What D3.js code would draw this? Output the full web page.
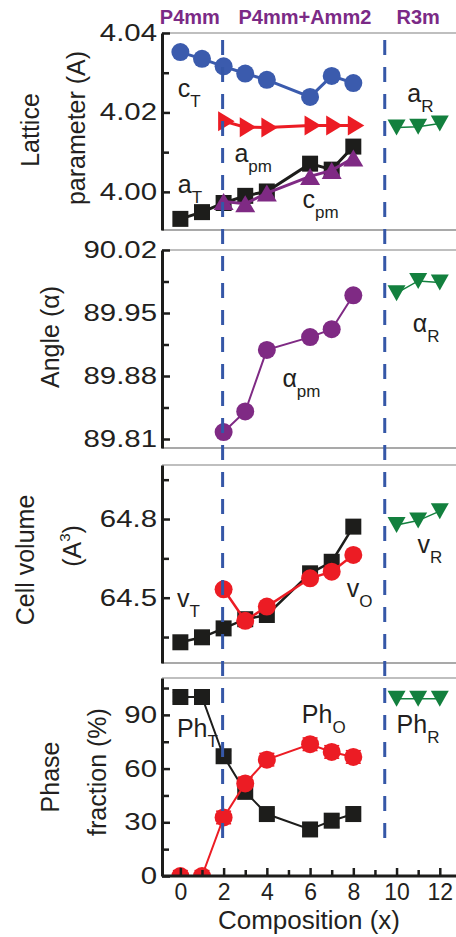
<!DOCTYPE html>
<html>
<head>
<meta charset="utf-8">
<script src="https://cdn.jsdelivr.net/npm/d3@7"></script>
<style>
  body { margin: 0; background: #fff; }
  text { font-family: "Liberation Sans", Arial, sans-serif; }
</style>
</head>
<body>
<div id="chart"></div>
<script>
// compositions
const comp = [0, 1, 2, 3, 4, 6, 7, 8];
const compPM = [2, 3, 4, 6, 7, 8];
const compR = [10, 11, 12];

// lattice parameters (A)
const latCT = [4.0352, 4.0335, 4.0316, 4.0298, 4.0282, 4.0239, 4.0292, 4.0274];
const latAT = [3.9932, 3.9949, 3.9972, 3.9990, 4.0001, 4.0071, 4.0056, 4.0114];
const latApm = [4.0178, 4.0163, 4.0162, 4.0167, 4.0167, 4.0167];
const latCpm = [3.9976, 3.9970, 3.9997, 4.0039, 4.0054, 4.0085];
const latAR = [4.0162, 4.0164, 4.0172];

// angle
const angPM = [89.8177, 89.8406, 89.909, 89.9232, 89.932, 89.9697];
const angR = [89.972, 89.9856, 89.984];

// cell volume
const volT = [64.330, 64.349, 64.383, 64.418, 64.434, 64.593, 64.637, 64.771];
const volO = [64.532, 64.412, 64.466, 64.574, 64.599, 64.663];
const volR = [64.777, 64.794, 64.830];

// phase fraction (%)
const phT = [100, 100, 66.9, 47, 34.6, 26, 30.9, 34.6];
const phTErr = [2.5, 2.5, 3, 3, 3, 3.5, 3.5, 4];
const phO = [0, 0, 32.7, 51.7, 65, 73.6, 69.3, 66.5];
const phOErr = [3, 3, 3.5, 3.5, 3.5, 3.5, 3.5, 3.5];
const phR = [99, 99, 99];

// ticks
const xTicks = d3.range(0, 13);
const tickMajor = [[4.00, 4.02, 4.04], [89.81, 89.88, 89.95, 90.02], [64.5, 64.8], [0, 30, 60, 90]];
const tickMinor = [[4.01, 4.03], [89.845, 89.915, 89.985], [64.35, 64.65, 64.95], [15, 45, 75, 105]];
const tickFmt = [".2f", ".2f", ".1f", "d"];
const phaseBounds = [2, 9.5];

const blue = "#3b5bad", red = "#ec1c24", black = "#1d1d1b",
      purple = "#7f2a84", green = "#13803e", dashBlue = "#3557a7", ink = "#231f20";

const width = 456, height = 937;
const left = 162, right = 456;

const svg = d3.select("#chart").append("svg")
  .attr("width", width).attr("height", height);

const x = d3.scaleLinear().domain([-0.85, 12.75]).range([left, right]);

const panels = [
  { top: 33, bottom: 230, domain: [3.9904, 4.04] },
  { top: 250, bottom: 448, domain: [89.80, 90.02] },
  { top: 465, bottom: 663, domain: [64.251, 65.006] },
  { top: 678, bottom: 876, domain: [0, 110.6] }
];
panels.forEach(p => {
  p.y = d3.scaleLinear().domain(p.domain).range([p.bottom, p.top]);
});

// marker shapes
const shapes = {
  circle: "M9,0A9,9 0 1,1 -9,0A9,9 0 1,1 9,0Z",
  square: "M-8,-8H8V8H-8Z",
  up: "M0,-8.5L10,8.5L-10,8.5Z",
  down: "M-9,-8L9,-8L0,8Z",
  right: "M-5.5,-10L11,0L-5.5,10Z"
};

function series(g, p, xs, ys, shape, color, lw) {
  const line = d3.line().x((d, i) => x(xs[i])).y(d => p.y(d));
  g.append("path").datum(ys)
    .attr("d", line)
    .attr("fill", "none")
    .attr("stroke", color)
    .attr("stroke-width", lw);
  g.selectAll(null).data(ys).enter().append("path")
    .attr("d", shapes[shape])
    .attr("transform", (d, i) => `translate(${x(xs[i])},${p.y(d)})`)
    .attr("fill", color);
}

function errBars(g, p, xs, ys, errs, color) {
  const eb = g.append("g").attr("stroke", color).attr("stroke-width", 1.5);
  ys.forEach((d, i) => {
    const cx = x(xs[i]);
    eb.append("line").attr("x1", cx).attr("x2", cx)
      .attr("y1", p.y(d - errs[i])).attr("y2", p.y(d + errs[i]));
    [d - errs[i], d + errs[i]].forEach(v => {
      eb.append("line").attr("x1", cx - 7.5).attr("x2", cx + 7.5)
        .attr("y1", p.y(v)).attr("y2", p.y(v));
    });
  });
}

function subLabel(p, xv, yv, main, sub) {
  const t = svg.append("text")
    .attr("x", x(xv)).attr("y", p.y(yv))
    .attr("font-size", 25).attr("fill", ink);
  t.append("tspan").text(main);
  t.append("tspan").attr("font-size", 17).attr("dy", 10).text(sub);
}

// frames, axes, clip areas
const plots = panels.map((p, k) => {
  svg.append("clipPath").attr("id", "clip" + k)
    .append("rect").attr("x", left).attr("y", p.top)
    .attr("width", right - left).attr("height", p.bottom - p.top);

  svg.append("line").attr("x1", left).attr("x2", right)
    .attr("y1", p.top).attr("y2", p.top)
    .attr("stroke", "#808080").attr("stroke-width", 1.2);
  if (k < 3) {
    svg.append("line").attr("x1", left).attr("x2", right)
      .attr("y1", p.bottom).attr("y2", p.bottom)
      .attr("stroke", "#555").attr("stroke-width", 1.2);
  }

  const minor = svg.append("g")
    .attr("transform", `translate(${left},0)`)
    .call(d3.axisLeft(p.y).tickValues(tickMinor[k]).tickFormat("").tickSizeInner(-7).tickSizeOuter(0));
  minor.select(".domain").remove();
  minor.selectAll("line").attr("stroke", black).attr("stroke-width", 2.5);

  const ax = svg.append("g")
    .attr("transform", `translate(${left},0)`)
    .call(d3.axisLeft(p.y).tickValues(tickMajor[k]).tickFormat(d3.format(tickFmt[k]))
      .tickSizeInner(-8).tickSizeOuter(0).tickPadding(4));
  ax.select(".domain").attr("stroke", black).attr("stroke-width", 3);
  ax.selectAll("line").attr("stroke", black).attr("stroke-width", 2.5);
  ax.selectAll("text")
    .attr("font-family", "Liberation Sans, Arial, sans-serif")
    .attr("font-size", 23.5)
    .attr("fill", ink)
    .attr("x", -5 / 1.25)
    .attr("transform", "scale(1.25,1)");

  return svg.append("g").attr("clip-path", `url(#clip${k})`);
});

// bottom x axis
const pb = panels[3];
const xAxis = svg.append("g")
  .attr("transform", `translate(0,${pb.bottom})`)
  .call(d3.axisBottom(x).tickValues(xTicks)
    .tickFormat(d => d % 2 === 0 ? d : "")
    .tickSizeInner(-8).tickSizeOuter(0).tickPadding(8));
xAxis.select(".domain").attr("stroke", black).attr("stroke-width", 3)
  .attr("d", `M${left},0H${right}`);
xAxis.selectAll(".tick line").attr("stroke", black).attr("stroke-width", 2.5)
  .attr("y2", d => d % 2 === 0 ? -8 : -6);
xAxis.selectAll("text")
  .attr("font-family", "Liberation Sans, Arial, sans-serif")
  .attr("font-size", 23).attr("fill", ink);

// panel 1: lattice parameters
const [p1, p2, p3, p4] = panels;
series(plots[0], p1, comp, latCT, "circle", blue, 3);
series(plots[0], p1, compPM, latApm, "right", red, 3);
series(plots[0], p1, comp, latAT, "square", black, 3);
series(plots[0], p1, compPM, latCpm, "up", purple, 3);
series(plots[0], p1, compR, latAR, "down", green, 1.5);

// panel 2: angle
series(plots[1], p2, compPM, angPM, "circle", purple, 2);
series(plots[1], p2, compR, angR, "down", green, 1.5);

// panel 3: cell volume
series(plots[2], p3, comp, volT, "square", black, 2.5);
series(plots[2], p3, compPM, volO, "circle", red, 2.5);
series(plots[2], p3, compR, volR, "down", green, 1.5);

// panel 4: phase fraction
errBars(plots[3], p4, comp, phT, phTErr, black);
errBars(plots[3], p4, comp, phO, phOErr, red);
series(plots[3], p4, comp, phT, "square", black, 2);
series(plots[3], p4, comp, phO, "circle", red, 2);
series(plots[3], p4, compR, phR, "down", green, 1.5);

// phase boundaries
phaseBounds.forEach(b => {
  svg.append("line")
    .attr("x1", x(b) - 1).attr("x2", x(b) - 1)
    .attr("y1", 40).attr("y2", 850)
    .attr("stroke", dashBlue).attr("stroke-width", 3)
    .attr("stroke-dasharray", "15,12");
});

// series labels
subLabel(p1, -0.12, 4.0240, "c", "T");
subLabel(p1, 2.5, 4.0075, "a", "pm");
subLabel(p1, -0.12, 3.9997, "a", "T");
subLabel(p1, 5.65, 3.9959, "c", "pm");
subLabel(p1, 10.5, 4.0226, "a", "R");
subLabel(p2, 4.72, 89.8678, "α", "pm");
subLabel(p2, 10.75, 89.929, "α", "R");
subLabel(p3, -0.16, 64.4646, "v", "T");
subLabel(p3, 7.7, 64.5027, "v", "O");
subLabel(p3, 10.97, 64.6705, "v", "R");
subLabel(p4, -0.16, 77.7, "Ph", "T");
subLabel(p4, 5.62, 85.5, "Ph", "O");
subLabel(p4, 10.0, 79.9, "Ph", "R");

// phase names
[["P4mm", 0.44], ["P4mm+Amm2", 5.76], ["R3m", 11.0]].forEach(([t, xv]) => {
  svg.append("text")
    .attr("x", x(xv)).attr("y", 24)
    .attr("text-anchor", "middle")
    .attr("font-size", 20).attr("font-weight", "bold")
    .attr("fill", "#7b2a86")
    .text(t);
});

// y titles
function yTitle(tx, ty, txt) {
  return svg.append("text")
    .attr("transform", `translate(${tx},${ty}) rotate(-90)`)
    .attr("text-anchor", "middle")
    .attr("font-size", 25).attr("fill", ink)
    .text(txt);
}
yTitle(39, 130, "Lattice");
yTitle(85, 128, "parameter (A)");
yTitle(59, 337, "Angle (α)");
yTitle(34, 560, "Cell volume");
const vol = yTitle(81, 546, "(A");
vol.append("tspan").attr("font-size", 15).attr("dy", -11).text("3");
vol.append("tspan").attr("dy", 11).text(")");
yTitle(59, 777, "Phase");
yTitle(106, 772, "fraction  (%)");

// x title
svg.append("text")
  .attr("x", 309).attr("y", 929)
  .attr("text-anchor", "middle")
  .attr("font-size", 26).attr("fill", ink)
  .text("Composition (x)");
</script>
</body>
</html>
